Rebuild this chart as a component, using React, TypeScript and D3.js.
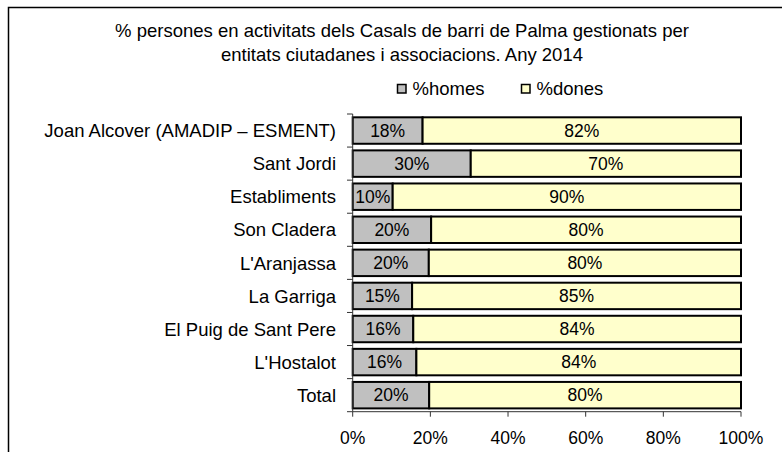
import React from "react";
import * as d3 from "d3";

const titleLines = [
  "% persones en activitats dels Casals de barri de Palma gestionats per",
  "entitats ciutadanes i associacions. Any 2014",
];
const categories = [
  "Joan Alcover (AMADIP – ESMENT)",
  "Sant Jordi",
  "Establiments",
  "Son Cladera",
  "L'Aranjassa",
  "La Garriga",
  "El Puig de Sant Pere",
  "L'Hostalot",
  "Total",
];
const homes = [18.0, 30.4, 10.3, 20.2, 19.6, 15.3, 15.6, 16.4, 19.7];
const dones = [82.0, 69.6, 89.7, 79.8, 80.4, 84.7, 84.4, 83.6, 80.3];
const seriesNames = ["%homes", "%dones"];
const seriesColors = ["#C0C0C0", "#FFFFCC"];
const xTicks = [0, 20, 40, 60, 80, 100];

const W = 782;
const H = 452;
const FONT = "'Liberation Sans', Arial, sans-serif";

export default function App() {
  const x = d3.scaleLinear().domain([0, 100]).range([352.7, 741]);
  const y = d3
    .scaleBand<string>()
    .domain(categories)
    .range([114, 411.7])
    .paddingInner(0.2)
    .paddingOuter(0.1);
  const axisY = 411.7;
  const series = [homes, dones];

  return (
    <div style={{ position: "fixed", left: 0, top: 0 }}>
      <svg width={W} height={H} style={{ display: "block", background: "#fff" }} fontFamily={FONT}>
        {/* outer frame */}
        <path d={`M8.5,${H + 5} V7.5 H${W + 5}`} fill="none" stroke="#000" strokeWidth={1.5} />

        {/* title */}
        {titleLines.map((t, i) => (
          <text key={i} x={402} y={36.5 + i * 24} textAnchor="middle" fontSize={18.5} fill="#000">
            {t}
          </text>
        ))}

        {/* legend */}
        {seriesNames.map((n, i) => {
          const lx = [397.5, 521.5][i];
          return (
            <g key={n}>
              <rect x={lx} y={84.5} width={8.5} height={8.5} fill={seriesColors[i]} stroke="#000" strokeWidth={1.5} />
              <text x={lx + 15} y={95} fontSize={18.5} fill="#000">
                {n}
              </text>
            </g>
          );
        })}

        {/* bars */}
        {categories.map((c, i) => {
          let acc = 0;
          return (
            <g key={c}>
              {series.map((s, k) => {
                const x0 = x(acc);
                const x1 = x(acc + s[i]);
                acc += s[i];
                const by = y(c)!;
                return (
                  <g key={k}>
                    <rect
                      x={x0}
                      y={by}
                      width={x1 - x0}
                      height={y.bandwidth()}
                      fill={seriesColors[k]}
                      stroke="#000"
                      strokeWidth={2}
                    />
                    <text
                      x={(x0 + x1) / 2}
                      y={by + y.bandwidth() / 2}
                      dy="0.36em"
                      textAnchor="middle"
                      fontSize={17.5}
                      fill="#000"
                    >
                      {Math.round(s[i])}%
                    </text>
                  </g>
                );
              })}
            </g>
          );
        })}

        {/* y axis */}
        <line x1={352.7} x2={352.7} y1={114} y2={axisY} stroke="#333" strokeWidth={1} />
        {categories.map((c, i) => {
          const ty = y(c)! - (y.step() * y.paddingInner()) / 2;
          return <line key={i} x1={347} x2={352.7} y1={ty} y2={ty} stroke="#333" strokeWidth={1} />;
        })}
        <line x1={347} x2={352.7} y1={axisY} y2={axisY} stroke="#333" strokeWidth={1} />
        {categories.map((c) => (
          <text
            key={c}
            x={336}
            y={y(c)! + y.bandwidth() / 2}
            dy="0.36em"
            textAnchor="end"
            fontSize={18.5}
            fill="#000"
          >
            {c}
          </text>
        ))}

        {/* x axis */}
        <line x1={352.7} x2={741} y1={axisY} y2={axisY} stroke="#333" strokeWidth={1} />
        {xTicks.map((t) => (
          <g key={t}>
            <line x1={x(t)} x2={x(t)} y1={axisY} y2={axisY + 5} stroke="#333" strokeWidth={1} />
            <text x={x(t)} y={444} textAnchor="middle" fontSize={17.5} fill="#000">
              {t}%
            </text>
          </g>
        ))}
      </svg>
    </div>
  );
}
